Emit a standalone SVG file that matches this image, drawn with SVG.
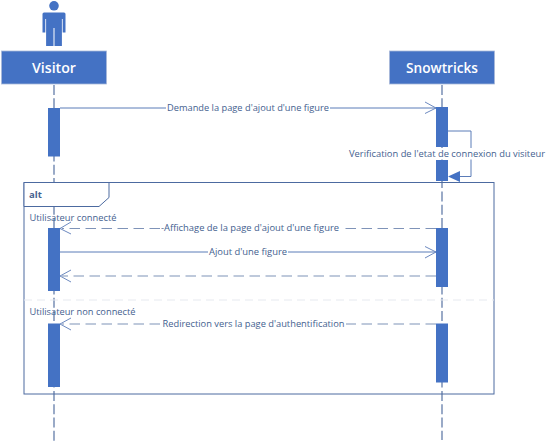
<svg xmlns="http://www.w3.org/2000/svg" width="552" height="444" viewBox="0 0 552 444">
<style>
text{font-family:"Open Sans","Noto Sans","DejaVu Sans",sans-serif}
.box{fill:#4472c4;stroke:#a9b9d9;stroke-width:.8}
.title{font-size:14px;font-weight:600;fill:#fff;text-anchor:middle}
.lab{font-size:9.5px;fill:#44618f}
.act{fill:#4472c4}
.life{stroke:#6f87b0;stroke-width:1.4;stroke-dasharray:10 3.3;fill:none}
.msg{stroke:#5b7cb8;stroke-width:1;fill:none}
.dash{stroke:#7f93b8;stroke-width:1.2;stroke-dasharray:10.500 5.500;fill:none}
.head{stroke:#5b7cb8;stroke-width:.9;fill:none}
.frame{stroke:#4c6aa0;stroke-width:1;fill:none}
</style>
<g id="lifelines" class="connectors">
<line class="life" x1="54" y1="85" x2="54" y2="443"/>
<line class="life" x1="442" y1="85" x2="442" y2="440"/>
</g>
<g id="frame-alt">
<rect class="frame" x="24" y="182.500" width="470" height="211.500"/>
<path d="M24 206.500H99L109 197.500V182.500H24Z" fill="#fff" stroke="#4c6aa0" stroke-width="1"/>
<text x="29" y="198" font-size="9.500" font-weight="700" fill="#44618f">alt</text>
<line x1="24" y1="300" x2="494" y2="300" stroke="#e6e9ef" stroke-width="1" stroke-dasharray="8 5"/>
<text class="lab" x="29.500" y="221" textLength="87" lengthAdjust="spacingAndGlyphs">Utilisateur connecté</text>
<text class="lab" x="29.500" y="315" textLength="106" lengthAdjust="spacingAndGlyphs">Utilisateur non connecté</text>
</g>
<g id="actor">
<circle cx="54" cy="5.800" r="4.800" fill="#4472c4"/>
<path d="M44 12.500H64Q65.500 12.500 65.500 14V32.500H62.700V19H61.900V46H54.500V28H53.500V46H46.100V19H45.300V32.500H42.500V14Q42.500 12.500 44 12.500Z" fill="#4472c4"/>
</g>
<g id="visitor">
<rect class="box" x="1.500" y="51" width="105" height="33"/>
<text class="title" x="54" y="73" textLength="44" lengthAdjust="spacingAndGlyphs">Visitor</text>
</g>
<g id="snowtricks">
<rect class="box" x="389.500" y="51" width="105" height="33"/>
<text class="title" x="442" y="73" textLength="72" lengthAdjust="spacingAndGlyphs">Snowtricks</text>
</g>
<g id="activations">
<rect class="act" x="48" y="108" width="12" height="48.500"/>
<rect class="act" x="436" y="107" width="12" height="40"/>
<rect class="act" x="436" y="160" width="12" height="21"/>
<rect class="act" x="48" y="228" width="12" height="63"/>
<rect class="act" x="436" y="228" width="12" height="59"/>
<rect class="act" x="48" y="323.500" width="12" height="63.500"/>
<rect class="act" x="436" y="323.500" width="12" height="59"/>
</g>
<g id="connectors">
<path class="msg" d="M60 108H166"/>
<path class="msg" d="M330 108H436"/>
<path class="head" d="M425 102L436 108L425 113.500"/>
<path class="msg" d="M448 131H471V176.500H460"/>
<path fill="#4472c4" d="M448 176.500L460 171V182Z"/>
<path class="dash" d="M436 228.500H340"/>
<path class="dash" d="M160 228.500H62"/>
<path class="head" d="M71 222L60 228.500L71 234"/>
<path class="msg" d="M60 252H208"/>
<path class="msg" d="M288 252H436"/>
<path class="head" d="M425 246.500L436 252L425 258"/>
<path class="dash" d="M436 276H62"/>
<path class="head" d="M71 270L60 276L71 282"/>
<path class="dash" d="M436 324H346"/>
<path class="dash" d="M160 324H62"/>
<path class="head" d="M71 318L60 324L71 330"/>
</g>
<g id="labels">
<text class="lab" x="167" y="111" textLength="162" lengthAdjust="spacingAndGlyphs">Demande la page d'ajout d'une figure</text>
<rect x="349" y="148" width="196" height="11.500" fill="#fff"/>
<text class="lab" x="349" y="157" textLength="196" lengthAdjust="spacingAndGlyphs">Verification de l'etat de connexion du visiteur</text>
<text class="lab" x="161" y="231" textLength="178" lengthAdjust="spacingAndGlyphs">-Affichage de la page d'ajout d'une figure</text>
<text class="lab" x="209" y="255" textLength="78" lengthAdjust="spacingAndGlyphs">Ajout d'une figure</text>
<text class="lab" x="162.500" y="327" textLength="182" lengthAdjust="spacingAndGlyphs">Redirection vers la page d'authentification</text>
</g>
</svg>
